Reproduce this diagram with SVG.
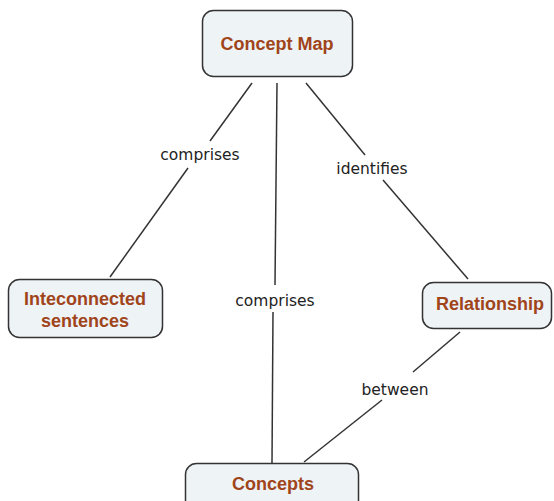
<svg xmlns="http://www.w3.org/2000/svg" width="554" height="501" viewBox="0 0 554 501">
<style>
.node rect{fill:#eef3f6;stroke:#333;stroke-width:1.5}
.node text{font-family:"Liberation Sans",Arial,sans-serif;font-weight:bold;font-size:18px;fill:#a0441a;text-anchor:middle}
.lbl{font-family:"DejaVu Sans",Verdana,sans-serif;font-size:15.5px;fill:#222;text-anchor:middle}
.conn line{stroke:#333;stroke-width:1.5}
</style>
<rect width="554" height="501" fill="#fff"/>
<g id="connectors" class="conn">
<line x1="252" y1="83" x2="210" y2="141"/>
<line x1="188" y1="168" x2="110" y2="277"/>
<line x1="277" y1="83" x2="275" y2="285"/>
<line x1="273" y1="312" x2="272" y2="463"/>
<line x1="306" y1="83" x2="365" y2="155"/>
<line x1="383" y1="180" x2="468" y2="279"/>
<line x1="460" y1="332" x2="413" y2="372"/>
<line x1="382" y1="400" x2="304" y2="462"/>
</g>
<g id="labels">
<text class="lbl" x="200" y="160">comprises</text>
<text class="lbl" x="372" y="174">identifies</text>
<text class="lbl" x="275" y="306">comprises</text>
<text class="lbl" x="395" y="395">between</text>
</g>
<g id="concept-map" class="node">
<rect x="202.5" y="10.5" width="150" height="66" rx="11"/>
<text x="277" y="50">Concept Map</text>
</g>
<g id="inteconnected" class="node">
<rect x="8.5" y="279.5" width="154" height="58" rx="11"/>
<text x="85" y="305">Inteconnected</text>
<text x="85" y="327">sentences</text>
</g>
<g id="relationship" class="node">
<rect x="422.5" y="282.5" width="129" height="46" rx="11"/>
<text x="490" y="310">Relationship</text>
</g>
<g id="concepts" class="node">
<rect x="185.5" y="463.5" width="173" height="50" rx="11"/>
<text x="273" y="490">Concepts</text>
</g>
</svg>
